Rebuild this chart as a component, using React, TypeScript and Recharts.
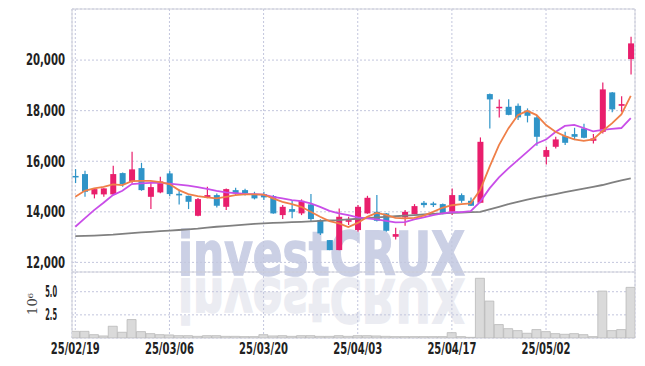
import React from "react";
import { Bar, CartesianGrid, ComposedChart, Line, ReferenceArea, XAxis, YAxis } from "recharts";

const dates = [
  "25/02/19", "25/02/20", "25/02/21", "25/02/24", "25/02/25", "25/02/26", "25/02/27", "25/02/28",
  "25/03/04", "25/03/05", "25/03/06", "25/03/07", "25/03/10", "25/03/11", "25/03/12", "25/03/13",
  "25/03/14", "25/03/17", "25/03/18", "25/03/19", "25/03/20", "25/03/21", "25/03/24", "25/03/25",
  "25/03/26", "25/03/27", "25/03/28", "25/03/31", "25/04/01", "25/04/02", "25/04/03", "25/04/04",
  "25/04/07", "25/04/08", "25/04/09", "25/04/10", "25/04/11", "25/04/14", "25/04/15", "25/04/16",
  "25/04/17", "25/04/18", "25/04/21", "25/04/22", "25/04/23", "25/04/24", "25/04/25", "25/04/28",
  "25/04/29", "25/04/30", "25/05/02", "25/05/07", "25/05/08", "25/05/09", "25/05/12", "25/05/13",
  "25/05/14", "25/05/15", "25/05/16", "25/05/19",
];

const opens = [
  15419, 15492, 14689, 14689, 14689, 15531, 15187, 15728, 14593, 14767,
  15519, 14713, 14633, 13843, 14554, 14661, 14198, 14858, 14858, 14701,
  14701, 14622, 13870, 14108, 13937, 14293, 13672, 12882, 12487, 13605,
  13278, 13937, 14001, 13937, 13013, 13779, 13910, 14357, 14333, 14305,
  14001, 14661, 14436, 14357, 18655, 18129, 18153, 18192, 17994, 17734,
  16175, 16571, 16994, 17073, 17298, 16808, 17164, 18721, 18192, 20039,
];
const highs = [
  15689, 15622, 14938, 14933, 15819, 15558, 16373, 15938, 15187, 15384,
  15611, 14887, 14640, 14543, 14989, 14728, 14926, 14950, 14913, 14792,
  14792, 14661, 14266, 14463, 14491, 14701, 13709, 12890, 14134, 13804,
  14266, 14633, 14661, 13950, 13369, 14068, 14305, 14424, 14398, 14333,
  14926, 14728, 14570, 16942, 18682, 18445, 18453, 18286, 18089, 17786,
  16571, 16967, 17164, 17323, 17480, 17073, 19117, 18740, 18574, 20920,
];
const lows = [
  15136, 14593, 14531, 14593, 14661, 14989, 15124, 14832, 14108, 14731,
  14620, 14293, 14108, 13820, 14540, 14175, 14068, 14622, 14650, 14491,
  14463, 13922, 13713, 13741, 13870, 13605, 13079, 12480, 12480, 13475,
  13209, 13922, 13618, 13209, 12909, 13447, 13900, 14175, 14195, 13900,
  13870, 14357, 14225, 14340, 17298, 17734, 17820, 17629, 17536, 16617,
  15875, 16507, 16640, 16836, 16910, 16706, 17101, 17937, 17960, 19434,
];
const closes = [
  15368, 14792, 14898, 14926, 15492, 15096, 15678, 14858, 14977, 15202,
  14701, 14649, 14397, 14503, 14661, 14240, 14898, 14728, 14731, 14531,
  14570, 13937, 14198, 14001, 14436, 13713, 13147, 12487, 13804, 13672,
  14198, 14554, 13645, 13249, 13119, 14001, 14226, 14266, 14266, 13910,
  14661, 14436, 14240, 16768, 18445, 18153, 17834, 17734, 17797, 16967,
  16441, 16863, 16729, 16967, 16927, 16903, 18841, 18050, 18259, 20660,
];

// volume in millions of shares
const volumes = [
  0.72, 0.72, 0.36, 0.22, 1.27, 0.62, 1.99, 0.69, 0.47, 0.36,
  0.33, 0.25, 0.25, 0.18, 0.25, 0.25, 0.18, 0.18, 0.15, 0.15,
  0.36, 0.22, 0.25, 0.18, 0.25, 0.25, 0.18, 0.18, 0.25, 0.18,
  0.25, 0.25, 0.22, 0.18, 0.15, 0.15, 0.15, 0.15, 0.15, 0.15,
  0.58, 0.15, 0.07, 6.45, 3.99, 1.45, 1.01, 0.8, 0.51, 0.91,
  0.69, 0.47, 0.4, 0.47, 0.36, 0.15, 5.07, 0.8, 0.91, 5.47,
];

const ma5 = [
  14594, 14831, 14926, 14989, 15084, 15057, 15215, 15227, 15227, 15175,
  15096, 14859, 14701, 14622, 14570, 14531, 14594, 14661, 14689, 14689,
  14680, 14531, 14396, 14305, 14198, 14001, 13804, 13633, 13542, 13396,
  13560, 13800, 13960, 13880, 13760, 13740, 13760, 13850, 14000, 14160,
  14260, 14305, 14333, 14858, 15780, 16638, 17298, 17824, 17994, 17824,
  17429, 17164, 16994, 16863, 16808, 16863, 17195, 17498, 17852, 18587,
];
const ma10 = [
  13408, 13740, 14068, 14357, 14661, 14832, 15096, 15124, 15148, 15148,
  15115, 15075, 15035, 14974, 14908, 14827, 14772, 14741, 14709, 14696,
  14680, 14594, 14531, 14463, 14424, 14333, 14198, 14040, 13937, 13870,
  13780, 13740, 13700, 13645, 13582, 13593, 13700, 13779, 13870, 13937,
  13983, 13989, 14028, 14396, 14926, 15361, 15716, 16045, 16373, 16704,
  16856, 17152, 17398, 17435, 17314, 17180, 17242, 17282, 17314, 17703,
];
const ma60 = [
  13040, 13050, 13062, 13079, 13100, 13130, 13160, 13185, 13210, 13238,
  13255, 13280, 13305, 13335, 13375, 13410, 13435, 13465, 13495, 13525,
  13545, 13560, 13575, 13590, 13605, 13620, 13640, 13658, 13673, 13700,
  13725, 13750, 13778, 13803, 13825, 13848, 13870, 13893, 13915, 13937,
  13955, 13968, 13985, 14001, 14100, 14200, 14300, 14396, 14480, 14560,
  14630, 14700, 14775, 14850, 14920, 14989, 15060, 15150, 15240, 15321,
];

const PRICE_TICKS = [12000, 14000, 16000, 18000, 20000];
const VOL_TICKS = [2.5, 5];
const X_TICKS = [0, 10, 20, 30, 40, 50];

const X_DOMAIN: [number, number] = [-0.35, 59.45];
const PRICE_DOMAIN: [number, number] = [11620, 22020];
const VOL_DOMAIN: [number, number] = [0, 7.13];

const UP = "#e91e6c";
const DOWN = "#2f94c8";
const GRID = "#c3c6dd";
const FRAME = "#cfd0da";
const FONT = "'DejaVu Sans', sans-serif";

const rows = dates.map((date, i) => ({
  idx: i,
  date,
  open: opens[i],
  high: highs[i],
  low: lows[i],
  close: closes[i],
  range: [lows[i], highs[i]],
  volume: volumes[i],
  ma5: ma5[i],
  ma10: ma10[i],
  ma60: ma60[i],
}));

// squeeze the bold sans into the narrow look of the original labels
function NarrowTick(props: any) {
  const { x, y, payload, textAnchor, tickFormatter, perChar, dy } = props;
  const label = tickFormatter ? tickFormatter(payload.value, payload.index) : String(payload.value);
  const narrow = label.replace(/[,./]/g, "").length;
  const punct = label.length - narrow;
  const len = narrow * perChar + punct * perChar * 0.5;
  return (
    <text
      x={x}
      y={y}
      dy={dy}
      textAnchor={textAnchor}
      fontFamily={FONT}
      fontSize={15}
      fontWeight={700}
      fill="#222"
      textLength={len}
      lengthAdjust="spacingAndGlyphs"
    >
      {label}
    </text>
  );
}

function Candle(props: any) {
  const { x, y, width, height, payload } = props;
  if (!payload) return null;
  const { open, close, high, low } = payload;
  const color = close >= open ? UP : DOWN;
  const span = high - low || 1;
  const py = (v: number) => y + ((high - v) / span) * height;
  const top = py(Math.max(open, close));
  const bot = py(Math.min(open, close));
  const cx = x + width / 2;
  return (
    <g>
      <line x1={cx} x2={cx} y1={y} y2={y + height} stroke={color} strokeWidth={1.2} />
      <rect x={x} y={top} width={width} height={Math.max(bot - top, 1.5)} fill={color} />
    </g>
  );
}

function VolUnit(props: any) {
  const vb = props.viewBox || { x: 0, y: 0, width: 72, height: 66 };
  const cx = vb.x + 32.5;
  const cy = vb.y + vb.height / 2 - 1;
  return (
    <text
      transform={`translate(${cx},${cy}) rotate(-90)`}
      textAnchor="middle"
      dominantBaseline="central"
      fontFamily="'DejaVu Serif', serif"
      fontSize={13}
      fill="#444"
    >
      10⁶
    </text>
  );
}

// brand mark behind the plot, with a faint mirrored copy underneath
function Watermark() {
  return (
    <svg width={645} height={366} style={{ position: "absolute", left: 0, top: 0 }}>
      <g fill="#cbd0e5" stroke="#cbd0e5" strokeWidth={1.5}>
        <text
          id="wm-text"
          x={178}
          y={275}
          fontFamily={FONT}
          fontWeight={700}
          fontSize={60}
          textLength={287}
          lengthAdjust="spacingAndGlyphs"
        >
          investCRUX
        </text>
      </g>
      <use href="#wm-text" fill="#ebecf2" stroke="#ebecf2" strokeWidth={1.5} transform="translate(0,554) scale(1,-1)" />
    </svg>
  );
}

export default function App() {
  return (
    <div style={{ position: "absolute", left: 0, top: 0, width: 645, height: 366, background: "#fff" }}>
      <Watermark />
      <div style={{ position: "absolute", left: 0, top: 0 }}>
        <ComposedChart width={645} height={272} data={rows} margin={{ top: 9, right: 10, bottom: 0, left: 0 }}>
          <CartesianGrid strokeDasharray="2 2" stroke={GRID} />
          <XAxis dataKey="idx" type="number" domain={X_DOMAIN} ticks={X_TICKS} hide allowDataOverflow />
          <YAxis
            type="number"
            domain={PRICE_DOMAIN}
            ticks={PRICE_TICKS}
            width={72}
            axisLine={false}
            tickLine={false}
            tickSize={5}
            tickMargin={2}
            tick={<NarrowTick perChar={7.1} dy="0.36em" />}
            tickFormatter={(v: number) => v.toLocaleString("en-US")}
            allowDataOverflow
          />
          <ReferenceArea x1={X_DOMAIN[0]} x2={X_DOMAIN[1]} y1={PRICE_DOMAIN[0]} y2={PRICE_DOMAIN[1]} fill="none" stroke={FRAME} />
          <Bar dataKey="range" barSize={6} shape={<Candle />} isAnimationActive={false} />
          <Line dataKey="ma60" type="linear" stroke="#808080" strokeWidth={1.8} dot={false} isAnimationActive={false} />
          <Line dataKey="ma10" type="linear" stroke="#c94ee8" strokeWidth={1.8} dot={false} isAnimationActive={false} />
          <Line dataKey="ma5" type="linear" stroke="#ef7f48" strokeWidth={1.8} dot={false} isAnimationActive={false} />
        </ComposedChart>
        <ComposedChart width={645} height={94} data={rows} margin={{ top: 0, right: 10, bottom: 0, left: 0 }}>
          <CartesianGrid strokeDasharray="2 2" stroke={GRID} />
          <XAxis
            dataKey="idx"
            type="number"
            domain={X_DOMAIN}
            ticks={X_TICKS}
            height={28}
            axisLine={false}
            tickLine={false}
            tickSize={3}
            tickMargin={2}
            tick={<NarrowTick perChar={7.0} dy="0.72em" />}
            tickFormatter={(i: number) => dates[i]}
            allowDataOverflow
          />
          <YAxis
            type="number"
            domain={VOL_DOMAIN}
            ticks={VOL_TICKS}
            width={72}
            axisLine={false}
            tickLine={false}
            tickSize={5}
            tickMargin={10}
            tick={<NarrowTick perChar={4.7} dy="0.36em" />}
            tickFormatter={(v: number) => v.toFixed(1)}
            label={<VolUnit />}
            allowDataOverflow
          />
          <ReferenceArea x1={X_DOMAIN[0]} x2={X_DOMAIN[1]} y1={VOL_DOMAIN[0]} y2={VOL_DOMAIN[1]} fill="none" stroke={FRAME} />
          <Bar dataKey="volume" barSize={9} fill="#dadada" stroke="#b9b9b9" strokeWidth={0.8} isAnimationActive={false} />
        </ComposedChart>
      </div>
    </div>
  );
}
